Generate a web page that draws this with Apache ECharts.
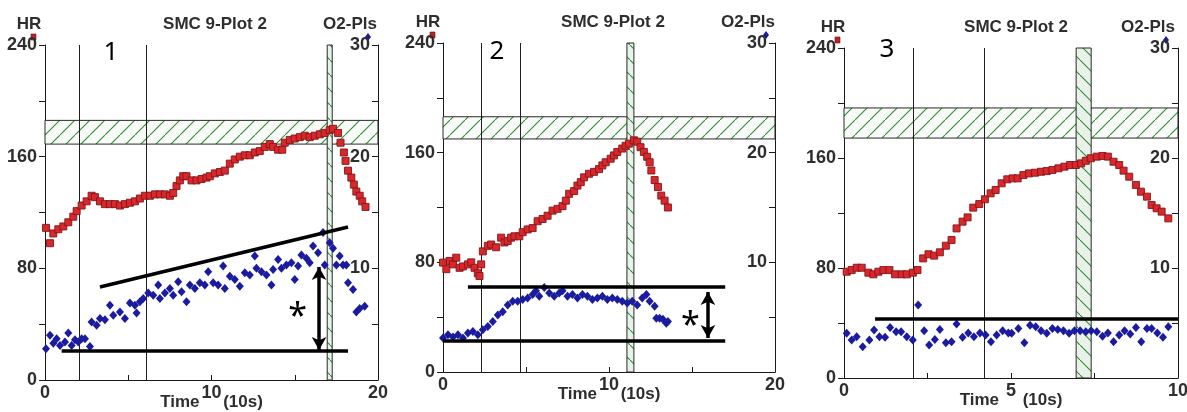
<!DOCTYPE html>
<html>
<head>
<meta charset="utf-8">
<script src="https://cdn.jsdelivr.net/npm/echarts@6/dist/echarts.min.js"></script>
<style>
  html, body { margin: 0; padding: 0; background: #ffffff; }
  #chart { width: 1187px; height: 412px; }
</style>
</head>
<body>
<div id="chart"></div>
<script>
// ---- Panel 1: heart rate (bpm) and O2 pulse over time (units of 10 s) ----
const hr1 = [[0.06,109],[0.3,98],[0.5,105],[0.8,108],[1.1,110],[1.4,113],[1.7,117],[1.9,121],[2.2,125],[2.5,128],[2.8,132],[3.0,131],[3.3,128],[3.6,126],[3.9,126],[4.2,126],[4.5,125],[4.8,126],[5.1,127],[5.4,128],[5.7,130],[6.0,132],[6.3,132],[6.6,133],[6.9,133],[7.2,133],[7.5,132],[7.7,134],[7.9,139],[8.1,143],[8.3,146],[8.5,146],[8.8,143],[9.1,143],[9.4,144],[9.7,145],[9.9,146],[10.2,148],[10.5,149],[10.8,150],[11.1,155],[11.4,158],[11.7,160],[12.0,161],[12.3,161],[12.6,163],[12.9,164],[13.2,167],[13.5,169],[13.7,167],[14.0,165],[14.25,165],[14.4,170],[14.7,172],[15.0,173],[15.3,174],[15.6,175],[15.9,174],[16.2,175],[16.5,176],[16.8,177],[17.1,179],[17.3,180],[17.6,177],[17.75,170],[17.95,163],[18.05,157],[18.2,150],[18.4,145],[18.55,140],[18.7,135],[18.9,132],[19.05,128],[19.25,124]];
const o2p1 = [[0.06,2.8],[0.3,4.0],[0.5,3.3],[0.7,3.7],[0.9,3.1],[1.2,3.4],[1.4,4.2],[1.6,3.1],[1.8,3.6],[2.0,3.4],[2.2,3.7],[2.4,3.7],[2.7,3.0],[2.8,5.2],[3.1,4.9],[3.3,5.5],[3.6,5.4],[3.9,6.7],[4.1,5.8],[4.5,6.1],[4.8,5.5],[5.1,6.9],[5.4,6.7],[5.5,6.0],[5.7,7.0],[5.9,7.3],[6.2,7.8],[6.5,7.6],[6.8,8.5],[6.9,7.3],[7.2,7.8],[7.5,8.2],[7.7,7.6],[8.0,8.8],[8.2,7.9],[8.5,7.0],[8.7,8.5],[9.0,8.2],[9.3,8.7],[9.6,8.5],[9.8,9.7],[10.1,8.7],[10.4,8.5],[10.7,10.2],[10.8,8.2],[11.1,9.3],[11.4,9.0],[11.7,8.4],[12.0,9.6],[12.3,9.4],[12.6,11.1],[12.7,10.0],[13.0,9.7],[13.3,9.4],[13.6,8.5],[13.7,9.9],[14.0,10.8],[14.2,10.0],[14.5,10.3],[14.8,10.5],[15.0,9.0],[15.2,10.2],[15.4,11.2],[15.7,10.9],[15.9,10.5],[16.1,12.0],[16.4,11.4],[16.7,13.2],[16.8,10.3],[17.1,12.3],[17.3,11.8],[17.5,10.3],[17.7,11.1],[17.9,10.3],[18.1,10.3],[18.2,8.7],[18.5,8.1],[18.7,6.1],[18.9,6.4],[19.2,6.6]];
const phaseLines1 = [2.05, 6.1];
const hrZone1 = [169, 186];
const peakWindow1 = [16.95, 17.25];
const trendTop1 = [[3.3, 66.6], [18.2, 109.6]];
const trendBase1 = [[1.0, 20.8], [18.2, 20.8]];
const rise1 = [[16.46, 81], [16.46, 21.5]];
const star1 = [15.17, 51.6];

// ---- Panel 2 ----
const hr2 = [[0.0,79.8],[0.2,75],[0.4,81],[0.6,78.5],[0.8,83.4],[1.0,76],[1.2,77],[1.5,78.5],[1.7,80],[1.9,76],[2.1,72],[2.2,70],[2.3,78.5],[2.4,88],[2.7,92],[2.9,93],[3.2,91],[3.5,98],[3.7,94.5],[3.9,95.6],[4.1,98],[4.3,99],[4.6,99],[4.8,102],[5.1,104],[5.4,105],[5.7,110],[6.0,111.6],[6.3,114],[6.6,117.7],[6.9,119],[7.2,121],[7.4,125],[7.6,130],[7.9,132],[8.1,136],[8.3,138.5],[8.5,142],[8.8,144.6],[9.1,146],[9.4,148],[9.6,150.7],[9.8,153],[10.1,155.6],[10.3,158],[10.5,160.5],[10.8,163],[11.0,165],[11.2,166.6],[11.5,169],[11.7,168],[11.9,164],[12.1,160.5],[12.3,157],[12.45,153],[12.55,147],[12.75,140],[12.95,135],[13.15,128.7],[13.35,125],[13.55,120]];
const o2p2 = [[0.0,3.1],[0.3,3.4],[0.6,3.2],[0.9,3.4],[1.2,3.1],[1.5,3.55],[1.8,3.7],[2.1,3.4],[2.4,3.85],[2.7,4.15],[3.0,4.6],[3.3,5.2],[3.6,5.5],[3.9,6.1],[4.2,6.45],[4.5,6.45],[4.8,6.6],[5.1,6.75],[5.4,7.06],[5.6,7.4],[5.8,6.9],[6.1,7.7],[6.4,7.2],[6.7,6.9],[7.0,7.2],[7.2,7.4],[7.5,6.9],[7.8,7.06],[8.1,6.75],[8.4,7.06],[8.7,6.9],[9.0,6.6],[9.3,6.75],[9.6,6.9],[9.9,6.6],[10.2,6.75],[10.5,6.6],[10.8,6.45],[11.1,6.3],[11.4,6.45],[11.7,6.1],[12.0,6.75],[12.25,7.06],[12.45,6.45],[12.75,6.0],[12.85,4.9],[13.05,4.9],[13.25,4.8],[13.45,4.45],[13.55,4.6]];
const phaseLines2 = [2.3, 4.65];
const hrZone2 = [170, 186.2];
const peakWindow2 = [11.08, 11.5];
const trendTop2 = [[1.5, 62], [17.0, 62]];
const trendBase2 = [[0, 22.6], [17.0, 22.6]];
const rise2 = [[15.96, 58.4], [15.96, 24.8]];
const star2 = [14.9, 39.8];

// ---- Panel 3 ----
const hr3 = [[0.08,77.3],[0.23,78.5],[0.38,80.2],[0.53,80.2],[0.73,76.6],[0.88,75.4],[1.03,77.3],[1.18,78.5],[1.36,78.5],[1.53,75.4],[1.73,75.4],[1.88,75.4],[2.06,76.6],[2.2,78.5],[2.37,87],[2.53,90],[2.7,89],[2.87,91.4],[3.05,96.2],[3.22,100.4],[3.37,108.8],[3.55,113.7],[3.7,116.8],[3.87,123.9],[4.05,126.5],[4.22,130],[4.39,134.3],[4.54,136.7],[4.72,141.6],[4.89,144.5],[5.05,145.2],[5.2,145.2],[5.37,147.6],[5.54,148.8],[5.72,149.3],[5.9,150],[6.07,150.5],[6.24,151.3],[6.42,152.5],[6.6,153.7],[6.77,154.9],[6.94,154.9],[7.1,156.1],[7.24,158],[7.39,159.8],[7.57,161],[7.74,161.5],[7.9,161],[8.07,157.3],[8.24,154.9],[8.37,150.8],[8.54,146.4],[8.74,140.4],[8.89,135.5],[9.07,131.9],[9.21,125.8],[9.36,123.4],[9.51,121],[9.71,116.1]];
const o2p3 = [[0.08,4.06],[0.23,3.45],[0.38,3.75],[0.56,2.85],[0.76,3.45],[0.9,4.36],[1.06,3.75],[1.23,3.7],[1.38,4.6],[1.56,4.2],[1.71,4.2],[1.88,3.75],[2.06,3.45],[2.22,6.64],[2.4,4.3],[2.55,3.0],[2.72,3.5],[2.87,4.4],[3.05,3.2],[3.22,3.3],[3.37,4.9],[3.55,3.7],[3.72,4.1],[3.89,3.75],[4.07,4.1],[4.24,3.9],[4.4,3.3],[4.57,3.9],[4.75,4.3],[4.92,4.1],[5.02,4.06],[5.22,4.5],[5.4,3.2],[5.57,4.8],[5.74,4.66],[5.9,4.3],[6.07,4.06],[6.24,4.5],[6.4,4.4],[6.57,4.3],[6.74,4.06],[6.9,4.3],[7.07,4.3],[7.24,4.2],[7.4,4.3],[7.57,4.2],[7.74,3.8],[7.9,4.1],[8.07,3.3],[8.24,3.9],[8.4,4.3],[8.57,4.0],[8.74,4.6],[8.9,3.3],[9.07,4.5],[9.21,4.5],[9.38,4.1],[9.55,3.7],[9.71,4.66]];
const phaseLines3 = [2.07, 4.2];
const hrZone3 = [174.5, 196.4];
const peakWindow3 = [6.95, 7.4];
const trendBase3 = [[0.93, 43], [10, 43]];

// Axis ranges
const hrRange = [0, 240];
const o2Range = [0, 30];
const timeMax = [20, 20, 10];
const panelTags = ['1', '2', '3'];
const titleText = 'SMC 9-Plot 2';

const FONT = "'Liberation Sans', Arial, sans-serif";
const TEXT_COLOR = '#2e2e2e';

// Diagonal hatch tiles used for the shaded bands
function hatchTile(dir, bg) {
  const s = 15;
  const c = document.createElement('canvas');
  c.width = s; c.height = s;
  const g = c.getContext('2d');
  g.fillStyle = bg;
  g.fillRect(0, 0, s, s);
  g.strokeStyle = '#2f8a35';
  g.lineWidth = 1.1;
  g.beginPath();
  if (dir === '/') {
    g.moveTo(-2, s + 2); g.lineTo(s + 2, -2);
  } else {
    g.moveTo(-2, -2); g.lineTo(s + 2, s + 2);
  }
  g.stroke();
  return { image: c, repeat: 'repeat' };
}
const hatchForward = hatchTile('/', '#f8fbf8');
const hatchBack = hatchTile('\\', '#e8f2e8');

const grids = [
  { left: 45, top: 45, width: 333, height: 335 },
  { left: 443, top: 43, width: 332, height: 329 },
  { left: 844, top: 48, width: 334, height: 330 }
];

const panels = [
  { hr: hr1, o2: o2p1, phase: phaseLines1, zone: hrZone1, peak: peakWindow1, top: trendTop1, base: trendBase1, rise: rise1, star: star1 },
  { hr: hr2, o2: o2p2, phase: phaseLines2, zone: hrZone2, peak: peakWindow2, top: trendTop2, base: trendBase2, rise: rise2, star: star2 },
  { hr: hr3, o2: o2p3, phase: phaseLines3, zone: hrZone3, peak: peakWindow3, top: null, base: trendBase3, rise: null, star: null }
];

const axisLineStyle = { lineStyle: { color: '#1a1a1a', width: 1 } };
const labelStyle = { color: TEXT_COLOR, fontFamily: FONT, fontWeight: 'bold', fontSize: 18 };

const xAxes = [], yAxes = [], series = [];

panels.forEach((p, i) => {
  const tMax = timeMax[i];
  const labelStep = tMax / 2;
  xAxes.push({
    type: 'value', gridIndex: i, min: 0, max: tMax, interval: tMax / 4,
    axisLine: axisLineStyle,
    axisTick: { inside: true, length: 5, lineStyle: { color: '#1a1a1a' } },
    splitLine: { show: false },
    axisLabel: Object.assign({}, labelStyle, {
      margin: 4,
      formatter: v => (Math.abs(v % labelStep) < 1e-9 ? String(v) : '')
    }),
    name: 'Time     (10s)',
    nameLocation: 'middle',
    nameGap: 14,
    nameMoveOverlap: false,
    nameTextStyle: { color: TEXT_COLOR, fontFamily: FONT, fontWeight: 'bold', fontSize: 17 }
  });
  yAxes.push({
    type: 'value', gridIndex: i, position: 'left', min: hrRange[0], max: hrRange[1], interval: 40,
    axisLine: { show: true, lineStyle: { color: '#1a1a1a', width: 1 } },
    axisTick: { show: true, length: 6, lineStyle: { color: '#1a1a1a' } },
    splitLine: { show: false },
    axisLabel: Object.assign({}, labelStyle, {
      margin: 8,
      formatter: v => (v % 80 === 0 ? String(v) : '')
    })
  });
  yAxes.push({
    type: 'value', gridIndex: i, position: 'right', min: o2Range[0], max: o2Range[1], interval: 5,
    axisLine: { show: true, lineStyle: { color: '#1a1a1a', width: 1 } },
    axisTick: { show: true, inside: true, length: 6, lineStyle: { color: '#1a1a1a' } },
    splitLine: { show: false },
    axisLabel: Object.assign({}, labelStyle, {
      inside: true, margin: 8,
      formatter: v => (v % 10 === 0 && v > 0 ? String(v) : '')
    })
  });

  // Heart rate squares, the target HR zone and the phase markers
  series.push({
    name: 'HR', type: 'scatter', xAxisIndex: i, yAxisIndex: 2 * i,
    data: p.hr, symbol: 'rect', symbolSize: 7, z: 3,
    itemStyle: { color: '#d8282c', borderColor: '#82151a', borderWidth: 0.9, opacity: 1 },
    markArea: {
      silent: true, z: 1,
      itemStyle: { color: hatchForward, borderColor: '#2a2a2a', borderWidth: 1 },
      data: [[{ yAxis: p.zone[0] }, { yAxis: p.zone[1] }]]
    },
    markLine: {
      silent: true, z: 1.5, symbol: 'none', label: { show: false },
      lineStyle: { color: '#1f1f1f', width: 1, type: 'solid' },
      data: p.phase.map(t => ({ xAxis: t }))
    }
  });

  // O2 pulse diamonds and the peak window
  series.push({
    name: 'O2-Pls', type: 'scatter', xAxisIndex: i, yAxisIndex: 2 * i + 1,
    data: p.o2, symbol: 'diamond', symbolSize: [8, 9], z: 3,
    itemStyle: { color: '#1b1ba0', opacity: 1 },
    markArea: {
      silent: true, z: 1.2,
      itemStyle: { color: hatchBack, borderColor: '#2a2a2a', borderWidth: 1 },
      data: [[{ xAxis: p.peak[0] }, { xAxis: p.peak[1] }]]
    }
  });

  // Trend lines, amplitude arrow and asterisk
  const lines = [];
  if (p.top) lines.push([{ coord: p.top[0] }, { coord: p.top[1] }]);
  if (p.base) lines.push([{ coord: p.base[0] }, { coord: p.base[1] }]);
  if (p.rise) lines.push([
    { coord: p.rise[0], symbol: 'arrow', symbolSize: [11, 13] },
    { coord: p.rise[1], symbol: 'arrow', symbolSize: [11, 13] }
  ]);
  series.push({
    name: 'notes' + i, type: 'line', xAxisIndex: i, yAxisIndex: 2 * i,
    data: [], symbol: 'none', z: 5,
    markLine: {
      silent: true, z: 5, symbol: 'none', label: { show: false },
      lineStyle: { color: '#000000', width: 3.5, type: 'solid' },
      data: lines
    },
    markPoint: p.star ? {
      silent: true, z: 5,
      symbol: 'rect', symbolSize: 1,
      itemStyle: { color: 'rgba(0,0,0,0)' },
      label: { show: true, position: 'inside', formatter: '*', color: '#000', fontSize: 34, fontFamily: "'Noto Sans', sans-serif", offset: [0, 9] },
      data: [{ coord: p.star }]
    } : undefined
  });
});

// Titles, axis captions, legend glyphs and panel numbers
const textAt = (x, y, text, size, weight, family) => ({
  type: 'text', x: x, y: y, silent: true,
  style: { text: text, fill: TEXT_COLOR, font: `${weight} ${size}px ${family}`, align: 'center', verticalAlign: 'middle' }
});
const titleY = [24, 22, 27];
const titleX = [215, 613, 1016];
const hrX = [29, 428, 833];
const o2X = [350, 748, 1148];
const tagX = [111, 497, 887];
const tagY = [53, 52, 50];
const graphics = [];
for (let i = 0; i < 3; i++) {
  graphics.push(textAt(titleX[i], titleY[i], titleText, 17, 'bold', FONT));
  graphics.push(textAt(hrX[i], titleY[i], 'HR', 17, 'bold', FONT));
  graphics.push(textAt(o2X[i], titleY[i], 'O2-Pls', 17, 'bold', FONT));
  const tag = textAt(tagX[i], tagY[i], panelTags[i], 26, 'normal', "'Noto Sans', sans-serif");
  tag.style.fill = '#000';
  graphics.push(tag);
  graphics.push({ type: 'rect', silent: true, x: hrX[i] + 2, y: titleY[i] + 10, shape: { x: 0, y: 0, width: 5, height: 6 }, style: { fill: '#b82428', stroke: '#6a1012', lineWidth: 0.6 } });
  graphics.push({ type: 'polygon', silent: true, x: o2X[i] + 18, y: titleY[i] + 13, shape: { points: [[0, -4], [3, 0], [0, 4], [-3, 0]] }, style: { fill: '#1c1c9e' } });
}

const chart = echarts.init(document.getElementById('chart'), null, { renderer: 'canvas' });
chart.setOption({
  animation: false,
  backgroundColor: '#ffffff',
  grid: grids.map(g => Object.assign({ outerBoundsMode: 'none', containLabel: false }, g)),
  xAxis: xAxes,
  yAxis: yAxes,
  series: series,
  graphic: graphics
});
</script>
</body>
</html>
